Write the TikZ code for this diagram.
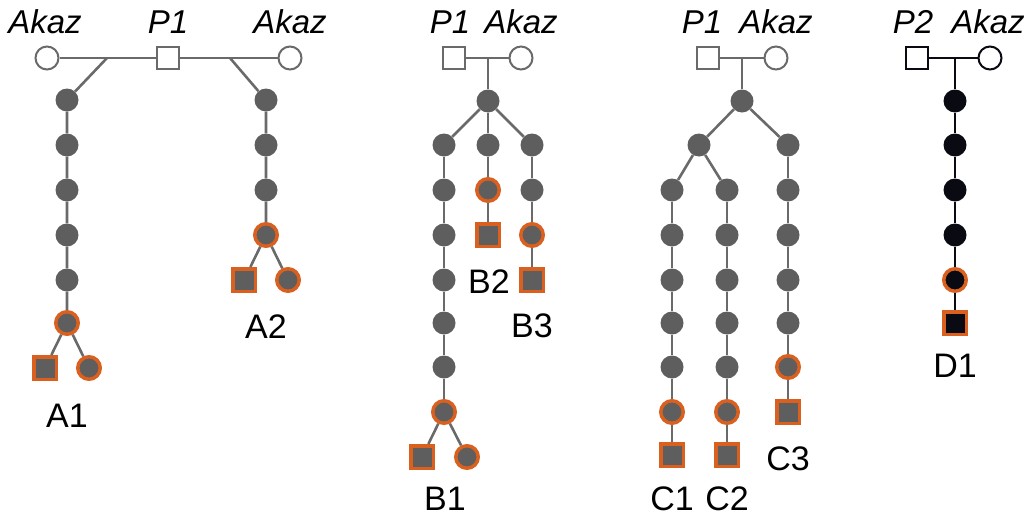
\documentclass[tikz,border=0pt]{standalone}
\usepackage{fontspec}
\setmainfont{Liberation Sans}
\usepackage{tikz}

\definecolor{cfill}{HTML}{5E5E5E}
\definecolor{cline}{HTML}{6A6A6A}
\definecolor{corange}{HTML}{D9601F}
\definecolor{cblack}{HTML}{0A0A12}

\tikzset{
  ind/.style={inner sep=0pt, fill=cfill},
  fem/.style={ind, circle, minimum size=23pt},
  mal/.style={ind, rectangle, minimum size=21pt},
  hit/.style={draw=corange, line width=3.5pt, minimum size=22.5pt},
  parf/.style={circle, fill=white, draw=cline, line width=2pt, inner sep=0pt, minimum size=23pt},
  parm/.style={rectangle, fill=white, draw=cline, line width=2pt, inner sep=0pt, minimum size=22pt},
  link/.style={draw=cline, line width=2.6pt},
  tag/.style={anchor=base, font=\fontsize{34}{36}\selectfont},
  who/.style={anchor=base, font=\fontsize{33}{35}\selectfont\itshape},
}

\begin{document}
\begin{tikzpicture}[x=1pt, y=-1pt]
  \useasboundingbox (0,0) rectangle (1031,517);

  % family A
  \node[who] (wA1) at (45,33) {Akaz};
  \node[who] (wA2) at (168,33) {P1};
  \node[who] (wA3) at (290,33) {Akaz};
  \node[parf] (aM1) at (47,58) {};
  \node[parm] (aP) at (168,58) {};
  \node[parf] (aM2) at (290,58) {};
  \coordinate (aj1) at (107,58);
  \coordinate (aj2) at (230,58);
  \foreach \i/\y in {1/100,2/145,3/190,4/235,5/280}
    \node[fem] (a1\i) at (67,\y) {};
  \node[fem,hit] (a16) at (67,323) {};
  \node[mal,hit] (a1s) at (45,368) {};
  \node[fem,hit] (a1d) at (89,368) {};
  \node[tag] (tA1) at (67,427) {A1};
  \foreach \i/\y in {1/100,2/145,3/190}
    \node[fem] (a2\i) at (266,\y) {};
  \node[fem,hit] (a24) at (266,235) {};
  \node[mal,hit] (a2s) at (244,280) {};
  \node[fem,hit] (a2d) at (288,280) {};
  \node[tag] (tA2) at (266,338) {A2};
  \draw[link] (aM1) -- (aP) -- (aM2);
  \draw[link] (aj1) -- (a11) -- (a12) -- (a13) -- (a14) -- (a15) -- (a16);
  \draw[link] (a16) -- (a1s);
  \draw[link] (a16) -- (a1d);
  \draw[link] (aj2) -- (a21) -- (a22) -- (a23) -- (a24);
  \draw[link] (a24) -- (a2s);
  \draw[link] (a24) -- (a2d);

  % family B
  \node[who] (wB1) at (450,33) {P1};
  \node[who] (wB2) at (521,33) {Akaz};
  \node[parm] (bP) at (454,58) {};
  \node[parf] (bM) at (521,58) {};
  \coordinate (bj) at (488,58);
  \node[fem] (b0) at (488,101) {};
  \foreach \i/\y in {1/145,2/190,3/235,4/280,5/323,6/367}
    \node[fem] (b1\i) at (444,\y) {};
  \node[fem,hit] (b17) at (444,412) {};
  \node[mal,hit] (b1s) at (422,457) {};
  \node[fem,hit] (b1d) at (467,457) {};
  \node[tag] (tB1) at (445,510) {B1};
  \node[fem] (b21) at (488,145) {};
  \node[fem,hit] (b22) at (488,190) {};
  \node[mal,hit] (b2s) at (488,235) {};
  \node[tag] (tB2) at (489,293) {B2};
  \node[fem] (b31) at (532,145) {};
  \node[fem] (b32) at (532,190) {};
  \node[fem,hit] (b33) at (532,235) {};
  \node[mal,hit] (b3s) at (532,280) {};
  \node[tag] (tB3) at (532,337) {B3};
  \draw[link] (bP) -- (bM);
  \draw[link] (bj) -- (b0);
  \draw[link] (b0) -- (b11);
  \draw[link] (b0) -- (b21);
  \draw[link] (b0) -- (b31);
  \draw[link] (b11) -- (b12) -- (b13) -- (b14) -- (b15) -- (b16) -- (b17);
  \draw[link] (b17) -- (b1s);
  \draw[link] (b17) -- (b1d);
  \draw[link] (b21) -- (b22) -- (b2s);
  \draw[link] (b31) -- (b32) -- (b33) -- (b3s);

  % family C
  \node[who] (wC1) at (702,33) {P1};
  \node[who] (wC2) at (776,33) {Akaz};
  \node[parm] (cP) at (708,58) {};
  \node[parf] (cM) at (776,58) {};
  \coordinate (cj) at (742,58);
  \node[fem] (c0) at (742,101) {};
  \node[fem] (cL) at (699,145) {};
  \foreach \i/\y in {1/190,2/235,3/280,4/323,5/367} {
    \node[fem] (c1\i) at (672,\y) {};
    \node[fem] (c2\i) at (727,\y) {};
  }
  \node[fem,hit] (c16) at (672,412) {};
  \node[mal,hit] (c1s) at (672,455) {};
  \node[fem,hit] (c26) at (727,412) {};
  \node[mal,hit] (c2s) at (727,455) {};
  \node[tag] (tC1) at (672,510) {C1};
  \node[tag] (tC2) at (727,510) {C2};
  \foreach \i/\y in {1/145,2/190,3/235,4/280,5/323}
    \node[fem] (c3\i) at (788,\y) {};
  \node[fem,hit] (c36) at (788,367) {};
  \node[mal,hit] (c3s) at (788,412) {};
  \node[tag] (tC3) at (788,470) {C3};
  \draw[link] (cP) -- (cM);
  \draw[link] (cj) -- (c0);
  \draw[link] (c0) -- (cL);
  \draw[link] (c0) -- (c31);
  \draw[link] (cL) -- (c11);
  \draw[link] (cL) -- (c21);
  \draw[link] (c11) -- (c12) -- (c13) -- (c14) -- (c15) -- (c16) -- (c1s);
  \draw[link] (c21) -- (c22) -- (c23) -- (c24) -- (c25) -- (c26) -- (c2s);
  \draw[link] (c31) -- (c32) -- (c33) -- (c34) -- (c35) -- (c36) -- (c3s);

  % family D
  \node[who] (wD1) at (913,33) {P2};
  \node[who] (wD2) at (988,33) {Akaz};
  \node[parm, draw=cblack] (dP) at (917,58) {};
  \node[parf, draw=cblack] (dM) at (990,58) {};
  \coordinate (dj) at (955,58);
  \foreach \i/\y in {1/101,2/145,3/190,4/235}
    \node[fem, fill=cblack] (d\i) at (955,\y) {};
  \node[fem, hit, fill=cblack] (d5) at (955,280) {};
  \node[mal, hit, fill=cblack] (ds) at (955,323) {};
  \node[tag] (tD1) at (955,377) {D1};
  \draw[link, draw=cblack] (dP) -- (dM);
  \draw[link, draw=cblack] (dj) -- (d1) -- (d2) -- (d3) -- (d4) -- (d5) -- (ds);
\end{tikzpicture}
\end{document}
